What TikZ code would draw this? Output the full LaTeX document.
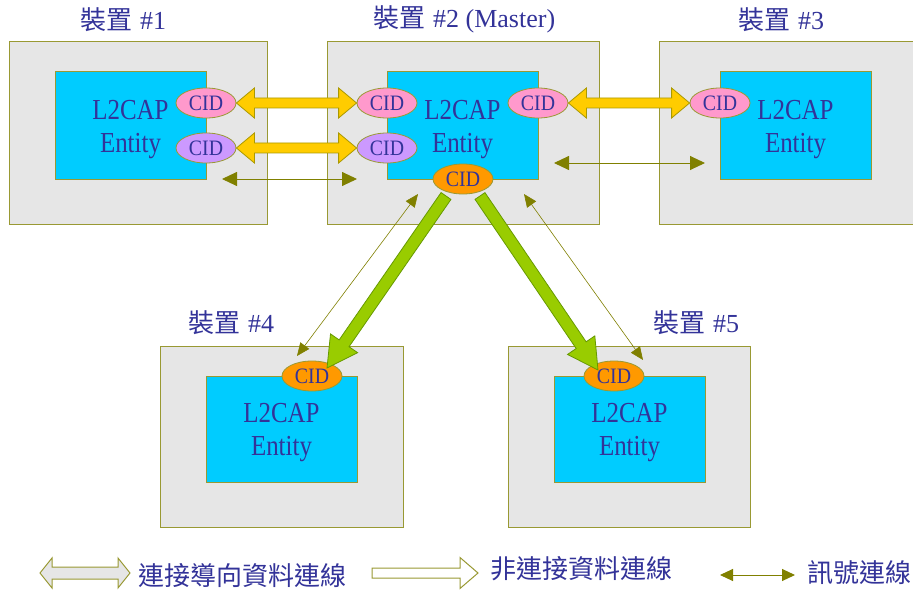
\documentclass[tikz,border=0pt]{standalone}
\usepackage{fontspec}
\setmainfont{Liberation Serif}
\newfontfamily\cjk{Noto Sans CJK TC}
\usetikzlibrary{arrows.meta,calc,shapes.geometric}

\definecolor{boxgray}{HTML}{E6E6E6}
\definecolor{edge}{HTML}{999933}
\definecolor{entcyan}{HTML}{00CCFF}
\definecolor{txt}{HTML}{333399}
\definecolor{cidpink}{HTML}{FF99CC}
\definecolor{cidpurple}{HTML}{CC99FF}
\definecolor{cidorange}{HTML}{FF9900}
\definecolor{yel}{HTML}{FFCC00}
\definecolor{yeledge}{HTML}{AA9900}
\definecolor{grn}{HTML}{99CC00}
\definecolor{grnedge}{HTML}{669900}
\definecolor{sig}{HTML}{808000}

% two-headed block arrow: style, from, to, head length, head half-width, shaft half-width
\newcommand\dblblock[6]{%
  \draw[#1] let \p1=(#2), \p2=(#3),
      \n1={atan2(\y2-\y1,\x2-\x1)}, \n2={veclen(\x2-\x1,\y2-\y1)} in
    [shift={(\p1)}, rotate=\n1]
    (0pt,0pt) -- (#4pt,#5pt) -- (#4pt,#6pt) -- ({\n2-#4pt},#6pt) -- ({\n2-#4pt},#5pt)
    -- ({\n2},0pt) -- ({\n2-#4pt},-#5pt) -- ({\n2-#4pt},-#6pt) -- (#4pt,-#6pt)
    -- (#4pt,-#5pt) -- cycle;}
% one-headed block arrow, same arguments
\newcommand\sglblock[6]{%
  \draw[#1] let \p1=(#2), \p2=(#3),
      \n1={atan2(\y2-\y1,\x2-\x1)}, \n2={veclen(\x2-\x1,\y2-\y1)} in
    [shift={(\p1)}, rotate=\n1]
    (0pt,#6pt) -- ({\n2-#4pt},#6pt) -- ({\n2-#4pt},#5pt) -- ({\n2},0pt)
    -- ({\n2-#4pt},-#5pt) -- ({\n2-#4pt},-#6pt) -- (0pt,-#6pt) -- cycle;}

\newcommand\entitytext{\scalebox{0.86}[1]{L2CAP}\\\scalebox{0.86}[1]{Entity}}
\newcommand\cidtext{\scalebox{0.9}[1]{CID}}
\newcommand\devtitle[1]{{\cjk 裝置}\hspace{8pt}#1}

\tikzset{
  device/.style={draw=edge, fill=boxgray, line width=1pt, inner sep=0pt},
  entity/.style={draw=edge, fill=entcyan, line width=1pt, inner sep=0pt,
    minimum width=151pt, minimum height=107pt},
  entitylabel/.style={align=center, text=txt, inner sep=0pt,
    font=\fontsize{29}{33}\selectfont},
  cid/.style={ellipse, draw=edge, line width=0.8pt, inner sep=0pt,
    minimum width=60pt, minimum height=30pt, text=txt,
    font=\fontsize{22}{22}\selectfont},
  title/.style={anchor=west, text=txt, inner sep=0pt,
    font=\fontsize{26}{26}\selectfont},
  legendtext/.style={anchor=west, text=txt, inner sep=0pt,
    font=\cjk\fontsize{26}{26}\selectfont},
  conndata/.style={fill=yel, draw=yeledge, line width=0.8pt, line join=miter},
  lessdata/.style={fill=grn, draw=grnedge, line width=0.8pt, line join=miter},
  signal/.style={draw=sig, line width=0.9pt,
    {Triangle[length=15pt,width=14pt]}-{Triangle[length=15pt,width=14pt]}},
  signalthin/.style={draw=sig, line width=0.6pt,
    {Triangle[length=13pt,width=11pt]}-{Triangle[length=13pt,width=11pt]}},
  keyconn/.style={fill=boxgray, draw=edge, line width=1pt, line join=miter},
  keyless/.style={fill=white, draw=edge, line width=1pt, line join=miter},
  keysignal/.style={draw=sig, line width=1pt,
    {Triangle[length=13pt,width=12pt]}-{Triangle[length=13pt,width=12pt]}},
}

\begin{document}
\begin{tikzpicture}[x=1pt,y=-1pt]
\useasboundingbox (0,0) rectangle (913,591);
\fill[white] (0,0) rectangle (913,591);

% devices
\node[device, minimum width=258pt, minimum height=182pt] (d1) at (138,133) {};
\node[device, minimum width=272pt, minimum height=182pt] (d2) at (463,133) {};
\node[device, minimum width=266pt, minimum height=182pt] (d3) at (792,133) {};
\node[device, minimum width=243pt, minimum height=181pt] (d4) at (281.5,436.5) {};
\node[device, minimum width=242pt, minimum height=181pt] (d5) at (629,436.5) {};

% device titles
\node[title] (t1) at (80,19.5) {\devtitle{\#1}};
\node[title] (t2) at (373,19.5) {\devtitle{\#2 (Master)}};
\node[title] (t3) at (738,19.5) {\devtitle{\#3}};
\node[title] (t4) at (188,323) {\devtitle{\#4}};
\node[title] (t5) at (653,323) {\devtitle{\#5}};

% L2CAP entities
\node[entity] (e1) at (130.5,125.5) {};
\node[entity] (e2) at (462.5,125.5) {};
\node[entity] (e3) at (795.5,125.5) {};
\node[entity, minimum height=106pt] (e4) at (281.5,429) {};
\node[entity, minimum height=106pt] (e5) at (629.5,429) {};
\foreach \e in {e1,e2,e3,e4,e5}
  \node[entitylabel] (\e txt) at ($(\e.center)+(0,4)$) {\entitytext};

% channel endpoints
\node[cid, fill=cidpink]   (c1a) at (206,103) {\cidtext};
\node[cid, fill=cidpurple] (c1b) at (206,148) {\cidtext};
\node[cid, fill=cidpink]   (c2a) at (387,103) {\cidtext};
\node[cid, fill=cidpurple] (c2b) at (387,148) {\cidtext};
\node[cid, fill=cidpink]   (c2c) at (538,103) {\cidtext};
\node[cid, fill=cidorange] (c2d) at (463,179) {\cidtext};
\node[cid, fill=cidpink]   (c3)  at (720,103) {\cidtext};
\node[cid, fill=cidorange] (c4)  at (312,376) {\cidtext};
\node[cid, fill=cidorange] (c5)  at (614,376) {\cidtext};

% connection-oriented data channels
\dblblock{conndata}{c1a.east}{c2a.west}{18}{15}{5}
\dblblock{conndata}{c1b.east}{c2b.west}{18}{15}{5}
\dblblock{conndata}{c2c.east}{c3.west}{18}{15}{5}

% connectionless data channels
\coordinate (g1) at ($(c2d.center)+(-17,17)$);
\coordinate (g2) at ($(c2d.center)+(17,17)$);
\coordinate (g1end) at ($(c4.center)+(15,-8)$);
\coordinate (g2end) at ($(c5.center)+(-16,-6)$);
\sglblock{lessdata}{g1}{g1end}{30}{16.5}{6}
\sglblock{lessdata}{g2}{g2end}{30}{16.5}{6}

% signalling channels
\coordinate (s1a) at (222,179);  \coordinate (s1b) at (357,179);
\coordinate (s2a) at (554,163);  \coordinate (s2b) at (705,163);
\coordinate (s3a) at (418,194);  \coordinate (s3b) at (297,356);
\coordinate (s4a) at (524,194);  \coordinate (s4b) at (643,360);
\draw[signal] (s1a) -- (s1b);
\draw[signal] (s2a) -- (s2b);
\draw[signalthin] (s3a) -- (s3b);
\draw[signalthin] (s4a) -- (s4b);

% legend
\coordinate (k1a) at (40,573);  \coordinate (k1b) at (130,573);
\coordinate (k2a) at (372,573); \coordinate (k2b) at (478,573);
\coordinate (k3a) at (720,575); \coordinate (k3b) at (795,575);
\dblblock{keyconn}{k1a}{k1b}{12}{15}{6}
\sglblock{keyless}{k2a}{k2b}{18}{15.5}{5}
\draw[keysignal] (k3a) -- (k3b);
\node[legendtext] (l1) at (138,576) {連接導向資料連線};
\node[legendtext] (l2) at (490,569) {非連接資料連線};
\node[legendtext] (l3) at (807,573) {訊號連線};
\end{tikzpicture}
\end{document}
